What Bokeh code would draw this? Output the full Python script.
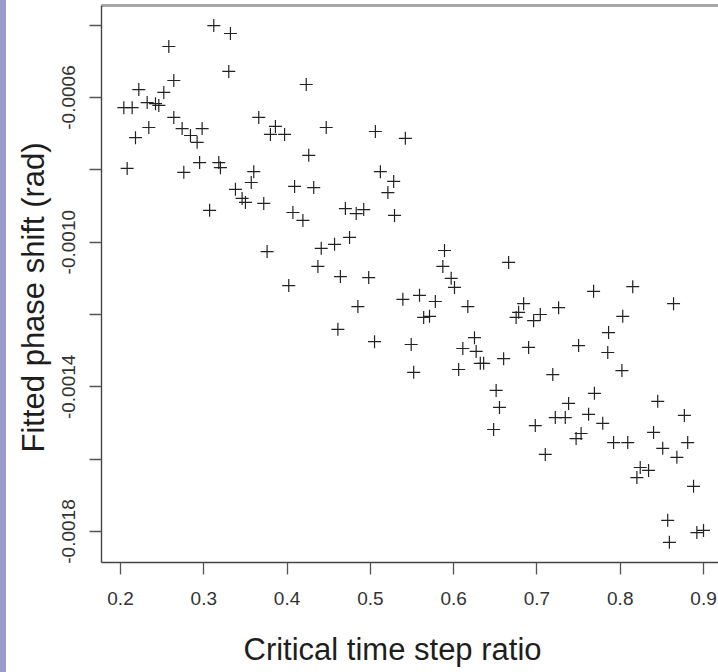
from bokeh.plotting import figure
from bokeh.models import FixedTicker, LinearAxis, Title, Range1d
from bokeh.embed import file_html
from bokeh.resources import INLINE

# Critical time step ratio (x) and fitted phase shift in rad (y)
ratio = [0.312, 0.332, 0.258, 0.330, 0.264, 0.252, 0.222, 0.204, 0.214, 0.232,
         0.242, 0.246, 0.264, 0.234, 0.218, 0.274, 0.284, 0.298, 0.292, 0.208,
         0.276, 0.295, 0.318, 0.320, 0.338, 0.307, 0.423, 0.366, 0.386, 0.380,
         0.397, 0.447, 0.506, 0.542, 0.426, 0.360, 0.357, 0.346, 0.350, 0.372,
         0.409, 0.432, 0.512, 0.528, 0.521, 0.407, 0.419, 0.470, 0.483, 0.492,
         0.529, 0.376, 0.441, 0.457, 0.475, 0.437, 0.464, 0.498, 0.402, 0.589,
         0.587, 0.597, 0.601, 0.539, 0.559, 0.578, 0.617, 0.485, 0.564, 0.571,
         0.461, 0.505, 0.549, 0.625, 0.611, 0.627, 0.552, 0.606, 0.666, 0.768,
         0.815, 0.864, 0.684, 0.678, 0.675, 0.704, 0.696, 0.726, 0.803, 0.786,
         0.785, 0.802, 0.750, 0.690, 0.660, 0.636, 0.632, 0.719, 0.651, 0.655,
         0.738, 0.769, 0.845, 0.877, 0.722, 0.734, 0.762, 0.648, 0.698, 0.779,
         0.710, 0.747, 0.753, 0.792, 0.809, 0.840, 0.851, 0.868, 0.881, 0.824,
         0.834, 0.820, 0.888, 0.857, 0.859, 0.892, 0.900]

shift = [-0.000401, -0.000423, -0.000459, -0.000528, -0.000553, -0.000586, -0.000578, -0.000628, -0.000628, -0.000614,
         -0.000617, -0.000622, -0.000655, -0.000683, -0.000711, -0.000686, -0.000705, -0.000686, -0.000724, -0.000796,
         -0.000807, -0.000780, -0.000780, -0.000794, -0.000854, -0.000912, -0.000564, -0.000655, -0.000680, -0.000702,
         -0.000702, -0.000683, -0.000694, -0.000713, -0.000760, -0.000805, -0.000835, -0.000879, -0.000890, -0.000893,
         -0.000846, -0.000849, -0.000805, -0.000832, -0.000863, -0.000918, -0.000940, -0.000907, -0.000921, -0.000910,
         -0.000926, -0.001026, -0.001017, -0.001006, -0.000987, -0.001067, -0.001095, -0.001098, -0.001120, -0.001023,
         -0.001067, -0.001100, -0.001125, -0.001158, -0.001147, -0.001164, -0.001178, -0.001178, -0.001208, -0.001205,
         -0.001241, -0.001275, -0.001283, -0.001264, -0.001294, -0.001302, -0.001360, -0.001352, -0.001056, -0.001136,
         -0.001123, -0.001170, -0.001170, -0.001194, -0.001208, -0.001200, -0.001217, -0.001181, -0.001205, -0.001250,
         -0.001305, -0.001355, -0.001286, -0.001291, -0.001322, -0.001335, -0.001335, -0.001366, -0.001410, -0.001457,
         -0.001446, -0.001418, -0.001440, -0.001479, -0.001485, -0.001485, -0.001476, -0.001518, -0.001507, -0.001501,
         -0.001587, -0.001543, -0.001529, -0.001554, -0.001554, -0.001526, -0.001570, -0.001595, -0.001554, -0.001623,
         -0.001631, -0.001651, -0.001675, -0.001769, -0.001830, -0.001803, -0.001797]

x_ticks = [0.2, 0.3, 0.4, 0.5, 0.6, 0.7, 0.8, 0.9]
x_tick_labels = ["0.2", "0.3", "0.4", "0.5", "0.6", "0.7", "0.8", "0.9"]
y_ticks = [-0.0004, -0.0006, -0.0008, -0.0010, -0.0012, -0.0014, -0.0016, -0.0018]
y_tick_labels = ["", "-0.0006", "", "-0.0010", "", "-0.0014", "", "-0.0018"]

x_label = "Critical time step ratio"
y_label = "Fitted phase shift (rad)"

FONT = "Liberation Sans"

p = figure(width=718, height=672, output_backend="svg", toolbar_location=None,
           title=None,
           x_range=Range1d(0.17719, 0.91797),
           y_range=Range1d(-0.0018857, -0.00034562),
           min_border_left=101, min_border_right=0,
           min_border_top=5, min_border_bottom=110,
           margin=0,
           styles={"background": "linear-gradient(to right, #9a9acc 0px, #9a9acc 6px, #ffffff 6px, #ffffff 100%)"})
p.border_fill_color = None
p.background_fill_color = "white"
p.outline_line_color = None
p.xgrid.visible = False
p.ygrid.visible = False

p.scatter(ratio, shift, marker="cross", size=13, line_color="#222222", line_width=1.2)

xa = p.xaxis[0]
xa.ticker = FixedTicker(ticks=x_ticks)
xa.major_label_overrides = dict(zip(x_ticks, x_tick_labels))
xa.major_tick_out = 12
xa.major_tick_in = 0
xa.minor_tick_out = 0
xa.minor_tick_in = 0
xa.axis_line_color = "#444444"
xa.axis_line_width = 1.4
xa.major_tick_line_color = "#555555"
xa.major_tick_line_width = 1.3
xa.major_label_standoff = 17
xa.major_label_text_font = FONT
xa.major_label_text_font_size = "19px"
xa.major_label_text_color = "#333333"

ya = p.yaxis[0]
ya.ticker = FixedTicker(ticks=y_ticks)
ya.major_label_overrides = dict(zip(y_ticks, y_tick_labels))
ya.major_tick_out = 12
ya.major_tick_in = 0
ya.minor_tick_out = 0
ya.minor_tick_in = 0
ya.axis_line_color = "#444444"
ya.axis_line_width = 1.4
ya.major_tick_line_color = "#555555"
ya.major_tick_line_width = 1.3
ya.major_label_orientation = "vertical"
ya.major_label_standoff = 14
ya.major_label_text_font = FONT
ya.major_label_text_font_size = "19px"
ya.major_label_text_color = "#333333"

# grey top border of the box
top = LinearAxis(ticker=FixedTicker(ticks=[]), major_tick_out=0, major_tick_in=0,
                 minor_tick_out=0, minor_tick_in=0, major_label_standoff=0,
                 major_label_text_font_size="0px",
                 axis_line_color="#a6a6a6", axis_line_width=3)
p.add_layout(top, "above")

# invisible spacer between tick labels and the x title (one hidden tick so it takes room)
spacer = LinearAxis(ticker=FixedTicker(ticks=[x_ticks[3]]), major_tick_out=20, major_tick_in=0,
                    minor_tick_out=0, minor_tick_in=0, major_label_standoff=0,
                    major_label_text_color=None,
                    axis_line_color=None, major_tick_line_color=None)
p.add_layout(spacer, "below")

xt = Title(text=x_label, align="left", offset=142, standoff=4, text_font=FONT,
           text_font_size="31px", text_font_style="normal", text_color="#1e1e1e")
p.add_layout(xt, "below")
yt = Title(text=y_label, align="left", offset=110, standoff=18, text_font=FONT,
           text_font_size="31px", text_font_style="normal", text_color="#1e1e1e")
p.add_layout(yt, "left")

open("out.html", "w").write(file_html(p, INLINE))
